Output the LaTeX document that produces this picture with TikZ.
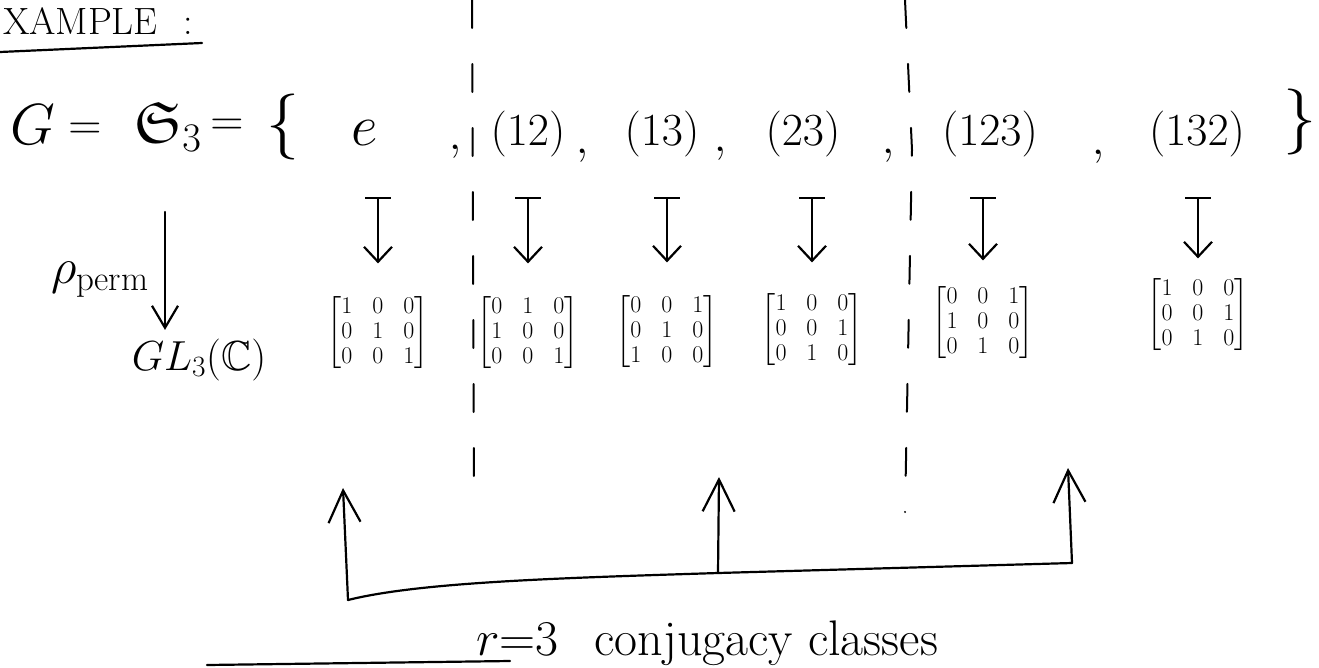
\RequirePackage{fix-cm}
\documentclass[tikz,border=0pt]{standalone}
\usepackage{amsmath,amssymb}
\usepackage{fontspec}
\usetikzlibrary{arrows.meta}
\newcommand{\permmat}[9]{$\setlength\arraycolsep{10pt}\begin{bmatrix}#1&#2&#3\\#4&#5&#6\\#7&#8&#9\end{bmatrix}$}
\begin{document}
\begin{tikzpicture}[x=1pt,y=-1pt,line width=2.2pt,line cap=round,line join=round,
  lbl/.style={inner sep=0pt,font=\fontsize{46}{52}\selectfont},
  big/.style={inner sep=0pt,font=\fontsize{58}{64}\selectfont},
  matx/.style={inner sep=0pt,font=\fontsize{24}{25}\selectfont},
  sep/.style={line width=2pt,dash pattern=on 28pt off 36pt},
  mapsto/.style={{Bar[width=26pt]}-{Straight Barb[length=15pt,width=28pt]}},
  downarrow/.style={-{Straight Barb[length=22pt,width=26pt]}},
  uparrow/.style={-{Straight Barb[length=32pt,width=32pt]}}]
\useasboundingbox (0,0) rectangle (1319,667);

% title
\node[inner sep=0pt,anchor=south west,font=\fontsize{38}{44}\selectfont] (title) at (2,36) {XAMPLE\hspace{26pt}:};
\draw (0,52) -- (202,43);

% separators
\draw[sep] (472,0) -- (474,510);
\draw[sep] (905,0) -- (912,150) -- (905,512);

% top row
\node[big] (G) at (33,125) {$G$};
\node[lbl] (eqa) at (85,131) {$=$};
\node[big] (S3) at (168,127) {$\mathfrak{S}_3$};
\node[lbl] (eqb) at (227,127) {$=$};
\node[inner sep=0pt,font=\fontsize{66}{70}\selectfont] (lb) at (283,127) {$\{$};
\node[big] (e) at (365,133) {$e$};
\node[lbl] (c1) at (455,152) {$,$};
\node[lbl] (p12) at (528,134) {$(12)$};
\node[lbl] (c2) at (582,156) {$,$};
\node[lbl] (p13) at (662,134) {$(13)$};
\node[lbl] (c3) at (720,154) {$,$};
\node[lbl] (p23) at (803,134) {$(23)$};
\node[lbl] (c4) at (888,156) {$,$};
\node[lbl] (p123) at (990,134) {$(123)$};
\node[lbl] (c5) at (1098,157) {$,$};
\node[lbl] (p132) at (1197,134) {$(132)$};
\node[inner sep=0pt,font=\fontsize{66}{70}\selectfont] (rb) at (1300,122) {$\}$};

% rho perm and GL3(C)
\node[inner sep=0pt,anchor=base east,font=\fontsize{50}{56}\selectfont] (rho) at (150,283) {$\rho_{\mathrm{perm}}$};
\node[inner sep=0pt,font=\fontsize{42}{48}\selectfont] (GL) at (199,360) {$GL_3(\mathbb{C})$};
\coordinate (rtop) at (165,212);
\draw[downarrow,shorten >=8pt] (rtop) -- (rtop |- GL.north);

% matrices
\node[matx] (m1) at (378,333) {\permmat100010001};
\node[matx] (m2) at (528,333) {\permmat010100001};
\node[matx] (m3) at (667,332) {\permmat001010100};
\node[matx] (m4) at (812,330) {\permmat100001010};
\node[matx] (m5) at (983,323) {\permmat001100010};
\node[matx] (m6) at (1198,315) {\permmat100001010};

% maps-to arrows
\coordinate (bartop) at (0,197);
\foreach \m/\s in {m1/31,m2/31,m3/31,m4/29,m5/24,m6/18}{
  \draw[mapsto] (\m.north |- bartop) -- ([yshift=\s pt]\m.north);
}

% conjugacy classes bracket
\coordinate (b1) at (348,600);
\coordinate (b2) at (718,573);
\coordinate (b3) at (1072,563);
\coordinate (t1) at (343,488);
\coordinate (t2) at (719,477);
\coordinate (t3) at (1068,468);
\draw (b1) .. controls (420,582) and (560,578) .. (b2) -- (b3);
\draw[uparrow] (b1) -- (t1);
\draw[uparrow] (b2) -- (t2);
\draw[uparrow] (b3) -- (t3);

\node[inner sep=0pt,anchor=base west,font=\fontsize{50}{56}\selectfont] (cc) at (475,655) {$r{=}3$\hspace{36pt}conjugacy classes};
\draw (207,665) -- (510,661);
\end{tikzpicture}
\end{document}
